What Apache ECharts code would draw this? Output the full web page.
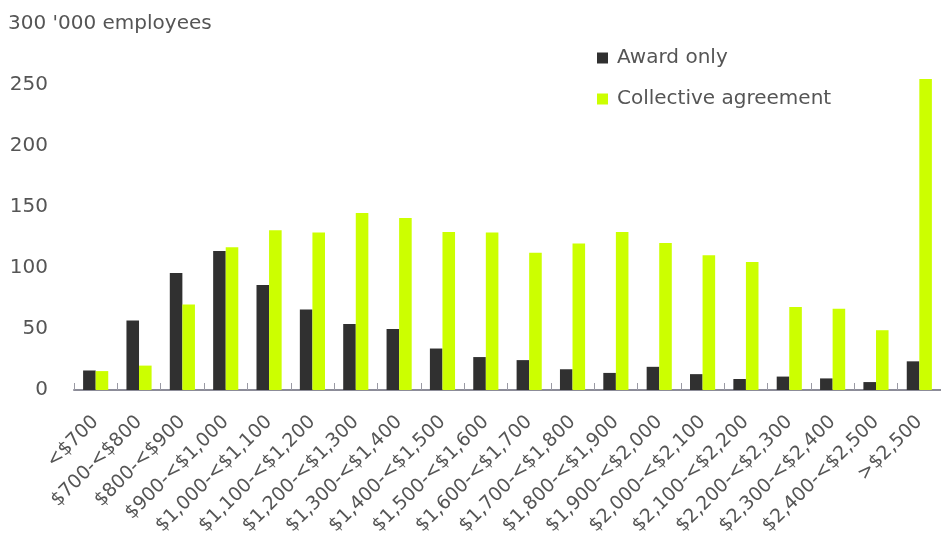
<!DOCTYPE html>
<html>
<head>
<meta charset="utf-8">
<style>
  html, body { margin: 0; padding: 0; background: #fff; }
  #chart { width: 941px; height: 558px; }
</style>
<script src="https://cdn.jsdelivr.net/npm/echarts@6/dist/echarts.min.js"></script>
</head>
<body>
<div id="chart"></div>
<script>
// weekly earnings bands
var categories = ['<$700', '$700-<$800', '$800-<$900', '$900-<$1,000', '$1,000-<$1,100',
  '$1,100-<$1,200', '$1,200-<$1,300', '$1,300-<$1,400', '$1,400-<$1,500', '$1,500-<$1,600',
  '$1,600-<$1,700', '$1,700-<$1,800', '$1,800-<$1,900', '$1,900-<$2,000', '$2,000-<$2,100',
  '$2,100-<$2,200', '$2,200-<$2,300', '$2,300-<$2,400', '$2,400-<$2,500', '>$2,500']
// '000 employees
var awardOnly = [16, 57, 96, 114, 86, 66, 54, 50, 34, 27, 24.5, 17, 14, 19, 13, 9, 11, 9.5, 6.5, 23.5]
var collective = [15.5, 20, 70, 117, 131, 129, 145, 141, 129.5, 129, 112.5, 120, 129.5, 120.5, 110.5, 105, 68, 66.5, 49, 255]
var yTicks = [0, 50, 100, 150, 200, 250, 300]

var chart = echarts.init(document.getElementById('chart'))
var textColor = '#555555'
var font = 'DejaVu Sans'

chart.setOption({
  animation: false,
  textStyle: { fontFamily: font },
  legend: {
    orient: 'vertical',
    left: 592,
    top: 43,
    itemWidth: 11,
    itemHeight: 11,
    itemGap: 21,
    icon: 'rect',
    textStyle: { color: textColor, fontSize: 20, fontFamily: font, padding: [0, 0, 0, 4] },
    data: ['Award only', 'Collective agreement']
  },
  grid: {
    left: 74,
    top: 24,
    width: 871,
    bottom: 168,
    containLabel: false
  },
  xAxis: {
    type: 'category',
    data: categories,
    axisLine: { lineStyle: { color: '#8c8c98', width: 2 } },
    axisTick: { show: true, inside: true, length: 7, lineStyle: { color: '#9a9aa4', width: 1 } },
    axisLabel: {
      rotate: 45,
      interval: 0,
      margin: 29,
      color: textColor,
      fontSize: 19,
      fontFamily: font
    }
  },
  yAxis: {
    type: 'value',
    min: yTicks[0],
    max: yTicks[yTicks.length - 1],
    interval: 50,
    splitLine: { show: false },
    axisLine: { show: false },
    axisTick: { show: false },
    axisLabel: {
      align: 'left',
      margin: 66,
      color: textColor,
      fontSize: 20,
      fontFamily: font,
      formatter: function (v) {
        if (v === 300) return '{t|300 \'000 employees}'
        return '{n|' + v + '}'
      },
      rich: {
        t: { color: textColor, fontSize: 20, fontFamily: font },
        n: { color: textColor, fontSize: 20, fontFamily: font, width: 40, align: 'right' }
      }
    }
  },
  series: [
    {
      name: 'Award only',
      type: 'bar',
      data: awardOnly,
      barGap: '0%',
      barCategoryGap: '42%',
      itemStyle: { color: '#303030' }
    },
    {
      name: 'Collective agreement',
      type: 'bar',
      data: collective,
      itemStyle: { color: '#ccff00' }
    }
  ]
})
</script>
</body>
</html>
